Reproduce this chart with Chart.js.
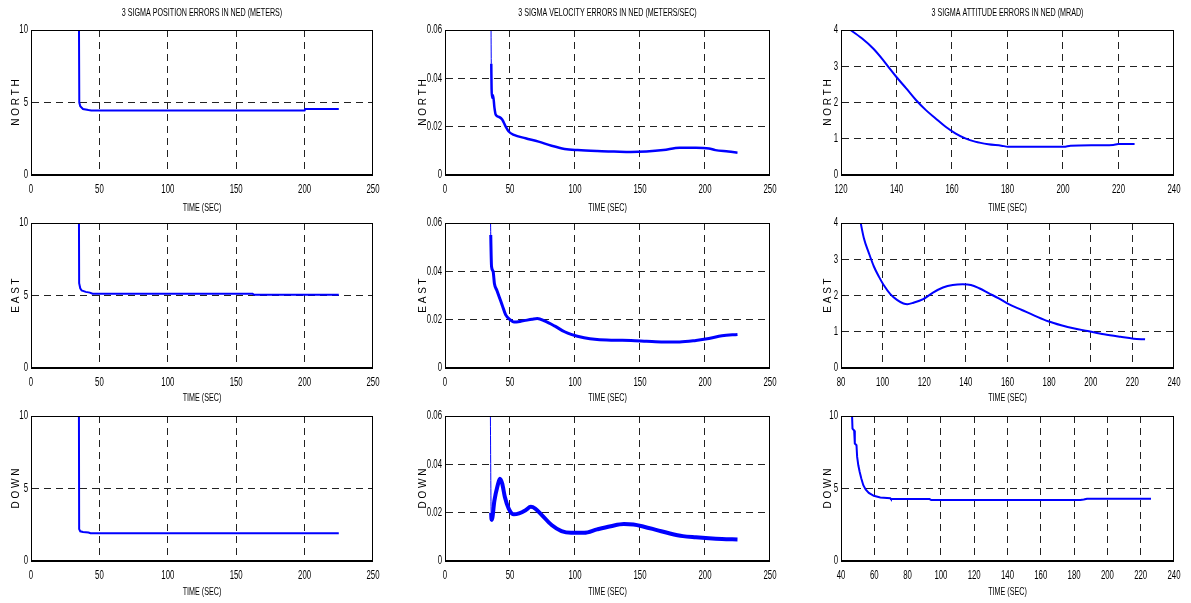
<!DOCTYPE html>
<html>
<head>
<meta charset="utf-8">
<script src="https://cdn.jsdelivr.net/npm/chart.js@4/dist/chart.umd.min.js"></script>
<style>
html,body{margin:0;padding:0;background:#fff;width:1191px;height:603px;overflow:hidden}
body{position:relative}
canvas{position:absolute}
</style>
</head>
<body>
<canvas id="c0"></canvas><canvas id="c1"></canvas><canvas id="c2"></canvas>
<canvas id="c3"></canvas><canvas id="c4"></canvas><canvas id="c5"></canvas>
<canvas id="c6"></canvas><canvas id="c7"></canvas><canvas id="c8"></canvas>
<script>
// ---------- titles / labels ----------
const columnTitles = ['3 SIGMA POSITION ERRORS IN NED (METERS)', '3 SIGMA VELOCITY ERRORS IN NED (METERS/SEC)', '3 SIGMA ATTITUDE ERRORS IN NED (MRAD)'];
const rowNames = ['N O R T H', 'E A S T', 'D O W N'];
const xAxisTitle = 'TIME (SEC)';

// ---------- tick values ----------
const posTicksX = [0, 50, 100, 150, 200, 250];
const posTicksY = [0, 5, 10];
const velTicksX = [0, 50, 100, 150, 200, 250];
const velTicksY = [0, 0.02, 0.04, 0.06];
const velTickLabels = ['0', '0.02', '0.04', '0.06'];
const attNorthTicksX = [120, 140, 160, 180, 200, 220, 240];
const attEastTicksX = [80, 100, 120, 140, 160, 180, 200, 220, 240];
const attDownTicksX = [40, 60, 80, 100, 120, 140, 160, 180, 200, 220, 240];
const attTicksY = [0, 1, 2, 3, 4];
const attDownTicksY = [0, 5, 10];

// ---------- series (time in s, value) ----------
const posNorthT = [35, 35.3, 36, 38, 42, 44, 100, 200, 200.5, 225];
const posNorthV = [12, 5.0, 4.75, 4.55, 4.48, 4.45, 4.45, 4.45, 4.55, 4.55];

const posEastT = [35, 35.2, 36, 37, 40, 43, 45, 162, 163, 225];
const posEastV = [12, 5.85, 5.5, 5.35, 5.25, 5.2, 5.12, 5.12, 5.05, 5.05];

const posDownT = [35, 35.2, 36, 38, 42, 43.5, 225];
const posDownV = [12, 2.2, 2.05, 2.0, 1.97, 1.92, 1.92];

const velNorthT = [35.3, 35.6, 36.1, 37, 38, 39, 41.7, 44, 46.7, 49, 53, 62, 72, 82, 92, 102, 117, 130, 143, 155, 168, 180.5, 193, 203, 208, 218, 225];
const velNorthV = [0.07, 0.046, 0.032, 0.033, 0.028, 0.025, 0.024, 0.023, 0.020, 0.018, 0.0166, 0.0152, 0.0138, 0.0121, 0.0108, 0.0103, 0.0099, 0.0097, 0.0095, 0.0097, 0.0103, 0.0113, 0.0113, 0.011, 0.0103, 0.0097, 0.0092];

const velEastT = [34.8, 35.2, 35.8, 37, 38, 40, 42, 44, 46.7, 50.5, 53, 59, 67, 71, 77, 84.6, 92, 97, 107, 117, 130, 143, 155, 168, 180.5, 193, 203, 213, 225];
const velEastV = [0.07, 0.055, 0.042, 0.040, 0.035, 0.032, 0.029, 0.026, 0.022, 0.0198, 0.019, 0.0194, 0.0202, 0.0205, 0.0194, 0.0173, 0.015, 0.0139, 0.0125, 0.0118, 0.0115, 0.0114, 0.0111, 0.0108, 0.0108, 0.0114, 0.0122, 0.0133, 0.0139];

const velDownT = [34.8, 35.5, 36, 38, 40.4, 42.2, 44, 46, 49, 53, 57, 62, 66, 69.4, 74.5, 82, 89.6, 97, 107, 117, 127.5, 137.6, 145, 153, 163, 173, 183, 193, 203, 213, 225];
const velDownV = [0.07, 0.02, 0.017, 0.025, 0.031, 0.034, 0.032, 0.0266, 0.0217, 0.0193, 0.0197, 0.021, 0.0224, 0.0217, 0.019, 0.0149, 0.0124, 0.0117, 0.0117, 0.0131, 0.0144, 0.0153, 0.0151, 0.0142, 0.0128, 0.0114, 0.0103, 0.0098, 0.0094, 0.0091, 0.0089];

const attNorthT = [122.5, 127.5, 131.6, 135.2, 137.5, 139.9, 143.5, 147, 150.6, 154.1, 157.7, 161.2, 164.8, 168.3, 173.1, 177.8, 180.2, 200.3, 202.7, 218.1, 219.9, 225.8];
const attNorthV = [4.05, 3.77, 3.49, 3.17, 2.94, 2.71, 2.39, 2.07, 1.79, 1.56, 1.33, 1.15, 1.01, 0.92, 0.85, 0.81, 0.78, 0.78, 0.81, 0.83, 0.855, 0.855];

const attEastT = [88.8, 91, 93.4, 95.8, 98.2, 100.5, 103.7, 106.9, 110, 111.9, 114.8, 119.5, 124.2, 129, 133.7, 138.5, 142.4, 146.4, 151.1, 155.8, 160.6, 166.9, 173.2, 179.5, 185.8, 192.2, 198.5, 206.4, 214.3, 220.6, 226.1];
const attEastV = [4.2, 3.58, 3.17, 2.8, 2.52, 2.29, 2.04, 1.88, 1.78, 1.76, 1.8, 1.9, 2.08, 2.22, 2.29, 2.31, 2.29, 2.2, 2.06, 1.92, 1.76, 1.6, 1.44, 1.29, 1.18, 1.09, 1.02, 0.93, 0.86, 0.81, 0.79];

const attDownT = [46.5, 46.9, 47.9, 48.3, 49.3, 49.7, 50.4, 51.2, 52.2, 53.4, 54.8, 56.7, 59.7, 63.6, 69.6, 70, 93.2, 94.2, 183.8, 185.8, 187.8, 226.2];
const attDownV = [10.5, 9.13, 9.0, 8.1, 7.98, 7.18, 6.6, 6.15, 5.69, 5.23, 4.93, 4.7, 4.5, 4.38, 4.33, 4.27, 4.27, 4.2, 4.2, 4.24, 4.29, 4.29];

// ---------- rendering ----------
const FONT = '"Liberation Sans Narrow", "Arial Narrow", "Liberation Sans", Arial, sans-serif';
Chart.defaults.font.family = FONT;
Chart.defaults.color = '#000';

// The reference figure is horizontally squeezed: draw upright text condensed.
const TEXT_SQUEEZE = 0.65;
function condenseText(ctx) {
  const orig = CanvasRenderingContext2D.prototype.fillText;
  ctx.fillText = function (text, x, y, maxWidth) {
    const m = this.getTransform();
    if (Math.abs(m.b) > 1e-6 || Math.abs(m.c) > 1e-6) {
      return maxWidth === undefined ? orig.call(this, text, x, y) : orig.call(this, text, x, y, maxWidth);
    }
    this.save();
    this.translate(x, y);
    this.scale(TEXT_SQUEEZE, 1);
    if (maxWidth === undefined) orig.call(this, text, 0, 0);
    else orig.call(this, text, 0, 0, maxWidth / TEXT_SQUEEZE);
    this.restore();
  };
}

const framePlugin = {
  id: 'frame',
  afterDraw(chart) {
    const a = chart.chartArea, ctx = chart.ctx;
    ctx.save();
    ctx.strokeStyle = '#000';
    ctx.lineWidth = 1;
    ctx.setLineDash([]);
    ctx.strokeRect(Math.round(a.left) + 0.5, Math.round(a.top) + 0.5, Math.round(a.right - a.left) - 1, Math.round(a.bottom - a.top) - 1);
    ctx.restore();
  }
};

const cols = [
  {left: 0, L: 31, width: 390, yTitlePad: 10},
  {left: 400, L: 45, width: 387, yTitlePad: 17},
  {left: 800, L: 41, width: 391, yTitlePad: 22}
];
const rows = [
  {top: 0, T: 30, height: 215, B: 40, xTitlePad: 1},
  {top: 212, T: 11, height: 196, B: 40, xTitlePad: 4},
  {top: 405, T: 11, height: 198, B: 42, xTitlePad: 5}
];

function pts(t, v) { return t.map((x, i) => ({x: x, y: v[i]})); }

function makePanel(r, c, spec) {
  const col = cols[c], row = rows[r];
  const canvas = document.getElementById('c' + (r * 3 + c));
  canvas.width = col.width; canvas.height = row.height;
  canvas.style.left = col.left + 'px'; canvas.style.top = row.top + 'px';
  canvas.style.width = col.width + 'px'; canvas.style.height = row.height + 'px';
  condenseText(canvas.getContext('2d'));
  const xT = spec.xTicks, yT = spec.yTicks;
  new Chart(canvas, {
    type: 'line',
    data: {
      datasets: [{
        data: pts(spec.t, spec.v),
        borderColor: '#0000ff',
        borderWidth: spec.lw || 2,
        pointRadius: 0,
        tension: spec.smooth ? 0.4 : 0,
        cubicInterpolationMode: spec.smooth ? 'monotone' : 'default',
        clip: 0,
        segment: spec.segWidth ? { borderWidth: spec.segWidth } : undefined
      }]
    },
    options: {
      responsive: false,
      animation: false,
      devicePixelRatio: 1,
      events: [],
      layout: { padding: { left: 0, right: 12, top: r === 0 ? 0 : row.T, bottom: 0 } },
      plugins: {
        legend: { display: false },
        tooltip: { enabled: false },
        title: {
          display: r === 0,
          text: columnTitles[c],
          fullSize: false,
          color: '#000',
          font: { size: 11, weight: 'normal', lineHeight: 1.2 },
          padding: { top: 6.4, bottom: 10.4 }
        }
      },
      scales: {
        x: {
          type: 'linear',
          min: xT[0], max: xT[xT.length - 1],
          afterBuildTicks: s => { s.ticks = xT.map(v => ({value: v})); },
          afterFit: s => { s.height = row.B; },
          ticks: { autoSkip: false, maxRotation: 0, padding: 7, color: '#000', font: { size: 12 } },
          grid: { color: '#222', lineWidth: 1, drawTicks: false },
          border: { display: true, color: '#000', width: 1, dash: [7, 5] },
          title: { display: true, text: xAxisTitle, color: '#000', font: { size: 11, lineHeight: 1.2 }, padding: { top: 0, bottom: row.xTitlePad - 0.6 } }
        },
        y: {
          type: 'linear',
          min: yT[0], max: yT[yT.length - 1],
          afterBuildTicks: s => { s.ticks = yT.map(v => ({value: v})); },
          afterFit: s => { s.width = col.L; },
          ticks: {
            autoSkip: false, padding: 3, color: '#000', font: { size: 12 },
            callback: v => spec.yLabels ? spec.yLabels[yT.indexOf(v)] : String(v)
          },
          grid: { color: '#222', lineWidth: 1, drawTicks: false },
          border: { display: true, color: '#000', width: 1, dash: [7, 5] },
          title: { display: true, text: rowNames[r], color: '#000', font: { size: 10, lineHeight: 1.2 }, padding: { top: col.yTitlePad, bottom: 0 } }
        }
      }
    },
    plugins: [framePlugin]
  });
}

const thinStart = ctx => (ctx.p0DataIndex === 0 ? 1 : undefined);

makePanel(0, 0, {t: posNorthT, v: posNorthV, xTicks: posTicksX, yTicks: posTicksY});
makePanel(1, 0, {t: posEastT, v: posEastV, xTicks: posTicksX, yTicks: posTicksY});
makePanel(2, 0, {t: posDownT, v: posDownV, xTicks: posTicksX, yTicks: posTicksY});

makePanel(0, 1, {t: velNorthT, v: velNorthV, xTicks: velTicksX, yTicks: velTicksY, yLabels: velTickLabels, smooth: true, lw: 2.5, segWidth: thinStart});
makePanel(1, 1, {t: velEastT, v: velEastV, xTicks: velTicksX, yTicks: velTicksY, yLabels: velTickLabels, smooth: true, lw: 3, segWidth: thinStart});
makePanel(2, 1, {t: velDownT, v: velDownV, xTicks: velTicksX, yTicks: velTicksY, yLabels: velTickLabels, smooth: true, lw: 4, segWidth: thinStart});

makePanel(0, 2, {t: attNorthT, v: attNorthV, xTicks: attNorthTicksX, yTicks: attTicksY, smooth: true});
makePanel(1, 2, {t: attEastT, v: attEastV, xTicks: attEastTicksX, yTicks: attTicksY, smooth: true});
makePanel(2, 2, {t: attDownT, v: attDownV, xTicks: attDownTicksX, yTicks: attDownTicksY});
</script>
</body>
</html>
